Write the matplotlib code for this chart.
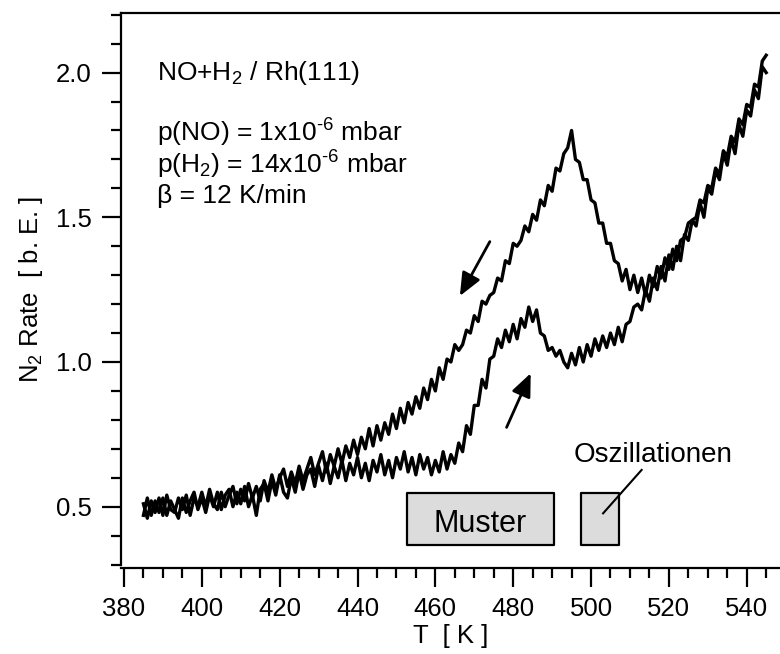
import numpy as np
import matplotlib
matplotlib.use("Agg")
import matplotlib.pyplot as plt
from matplotlib.patches import Rectangle
from matplotlib.ticker import MultipleLocator, FormatStrFormatter

plt.rcParams['font.family'] = ['Liberation Sans', 'DejaVu Sans']
plt.rcParams['mathtext.fontset'] = 'custom'
plt.rcParams['mathtext.rm'] = 'Liberation Sans'
plt.rcParams['mathtext.it'] = 'Liberation Sans:italic'

# Temperatur 385..545 K in 1 K Schritten
T = np.arange(385, 546)

# Aufheizen (untere Kurve)
rate_heat = [
    0.47, 0.53, 0.47, 0.52, 0.48, 0.53, 0.47, 0.52, 0.49, 0.46,
    0.53, 0.48, 0.52, 0.55, 0.49, 0.53, 0.48, 0.54, 0.50, 0.55,
    0.49, 0.54, 0.56, 0.50, 0.55, 0.51, 0.57, 0.50, 0.54, 0.47,
    0.56, 0.58, 0.52, 0.59, 0.54, 0.61, 0.55, 0.53, 0.60, 0.55,
    0.62, 0.56, 0.61, 0.63, 0.57, 0.64, 0.59, 0.65, 0.58, 0.64,
    0.60, 0.66, 0.59, 0.65, 0.61, 0.67, 0.60, 0.65, 0.59, 0.66,
    0.62, 0.68, 0.61, 0.66, 0.60, 0.67, 0.63, 0.69, 0.62, 0.67,
    0.61, 0.68, 0.63, 0.67, 0.61, 0.66, 0.62, 0.69, 0.63, 0.68,
    0.65, 0.72, 0.69, 0.78, 0.75, 0.85, 0.85, 0.94, 0.91, 1.01,
    1.02, 1.08, 1.05, 1.11, 1.07, 1.13, 1.08, 1.15, 1.12, 1.19,
    1.14, 1.18, 1.10, 1.09, 1.04, 1.05, 1.02, 1.04, 1.00, 0.98,
    1.03, 0.99, 1.05, 1.00, 1.06, 1.02, 1.08, 1.04, 1.09, 1.05,
    1.10, 1.06, 1.12, 1.07, 1.13, 1.14, 1.19, 1.20, 1.18, 1.25,
    1.21, 1.29, 1.25, 1.33, 1.28, 1.37, 1.32, 1.40, 1.35, 1.44,
    1.42, 1.49, 1.47, 1.55, 1.50, 1.60, 1.58, 1.66, 1.63, 1.72,
    1.68, 1.77, 1.72, 1.82, 1.78, 1.87, 1.85, 1.94, 1.91, 2.02,
    2.00,
]

# Abkuehlen (obere Kurve)
rate_cool = [
    0.51, 0.46, 0.52, 0.48, 0.53, 0.47, 0.54, 0.49, 0.48, 0.53,
    0.49, 0.54, 0.47, 0.53, 0.50, 0.55, 0.50, 0.56, 0.51, 0.49,
    0.55, 0.50, 0.54, 0.57, 0.51, 0.56, 0.52, 0.58, 0.53, 0.57,
    0.52, 0.59, 0.55, 0.61, 0.56, 0.60, 0.63, 0.57, 0.62, 0.58,
    0.64, 0.59, 0.63, 0.67, 0.61, 0.65, 0.69, 0.62, 0.68, 0.64,
    0.70, 0.65, 0.71, 0.67, 0.73, 0.68, 0.74, 0.70, 0.77, 0.71,
    0.78, 0.73, 0.79, 0.75, 0.82, 0.77, 0.84, 0.79, 0.86, 0.82,
    0.88, 0.84, 0.91, 0.87, 0.94, 0.90, 0.98, 0.94, 1.01, 1.00,
    1.06, 1.04, 1.06, 1.11, 1.10, 1.16, 1.14, 1.21, 1.20, 1.23,
    1.24, 1.29, 1.28, 1.35, 1.34, 1.41, 1.40, 1.42, 1.47, 1.45,
    1.51, 1.49, 1.56, 1.54, 1.61, 1.59, 1.67, 1.66, 1.72, 1.74,
    1.80, 1.70, 1.69, 1.63, 1.63, 1.56, 1.55, 1.48, 1.48, 1.41,
    1.41, 1.35, 1.34, 1.28, 1.32, 1.25, 1.30, 1.24, 1.29, 1.23,
    1.30, 1.26, 1.33, 1.29, 1.36, 1.32, 1.39, 1.35, 1.42, 1.43,
    1.48, 1.49, 1.50, 1.56, 1.55, 1.61, 1.60, 1.67, 1.65, 1.73,
    1.71, 1.78, 1.76, 1.84, 1.82, 1.89, 1.88, 1.96, 1.95, 2.04,
    2.06,
]

x_ticks = [380, 400, 420, 440, 460, 480, 500, 520, 540]
y_ticks = [0.5, 1.0, 1.5, 2.0]

fig = plt.figure(figsize=(7.8, 6.54), dpi=100)
ax = fig.add_axes([0.1547, 0.1361, 0.8453, 0.8436])

ax.plot(T, rate_heat, color='black', lw=2.4)
ax.plot(T[::-1], rate_cool[::-1], color='black', lw=2.4)

ax.set_xlim(379.15, 548.55)
ax.set_ylim(0.2985, 2.205)

ax.spines['right'].set_visible(False)
for s in ['left', 'top', 'bottom']:
    ax.spines[s].set_linewidth(1.6)
ax.spines['bottom'].set_position(('outward', 2.2))

ax.set_xticks(x_ticks)
ax.set_yticks(y_ticks)
ax.xaxis.set_minor_locator(MultipleLocator(5))
ax.yaxis.set_minor_locator(MultipleLocator(0.1))
ax.yaxis.set_major_formatter(FormatStrFormatter('%.1f'))
ax.tick_params(which='major', direction='out', length=14, width=1.6, labelsize=18.5)
ax.tick_params(which='minor', direction='out', length=7, width=1.6)
ax.tick_params(axis='x', which='major', pad=7)
ax.tick_params(axis='y', which='major', pad=7)
ax.tick_params(top=False, right=False, which='both')

ax.set_xlabel('T  [ K ]', fontsize=18.5, labelpad=2)
ax.set_ylabel('N$_2$ Rate  [ b. E. ]', fontsize=18.5, labelpad=8)

# Beschriftung
ax.text(388.5, 1.975, 'NO+H$_2$ / Rh(111)', fontsize=19, va='baseline')
ax.text(388.5, 1.762, 'p(NO) = 1x10$^{\\text{-6}}$ mbar', fontsize=19, va='baseline')
ax.text(388.5, 1.652, 'p(H$_2$) = 14x10$^{\\text{-6}}$ mbar', fontsize=19, va='baseline')
ax.text(388.5, 1.549, 'β = 12 K/min', fontsize=19, va='baseline')

# Pfeile
arr = dict(arrowstyle='-|>,head_length=1.4,head_width=0.6', color='black', lw=2,
           shrinkA=0, shrinkB=0)
ax.annotate('', xy=(466.3, 1.228), xytext=(474.0, 1.416), arrowprops=arr)
ax.annotate('', xy=(484.5, 0.961), xytext=(478.3, 0.774), arrowprops=arr)

# Kaesten
ax.add_patch(Rectangle((452.6, 0.368), 38.0, 0.178, facecolor='#dcdcdc',
                       edgecolor='black', lw=1.6, joinstyle='round'))
ax.add_patch(Rectangle((497.3, 0.368), 10.0, 0.178, facecolor='#dcdcdc',
                       edgecolor='black', lw=1.6, joinstyle='round'))
ax.text(471.5, 0.4136, 'Muster', fontsize=22, ha='center', va='baseline')
ax.text(495.5, 0.655, 'Oszillationen', fontsize=20, ha='left', va='baseline')
ax.plot([513.0, 503.1], [0.627, 0.477], color='black', lw=1.5)

fig.savefig('out.png', dpi=100)
